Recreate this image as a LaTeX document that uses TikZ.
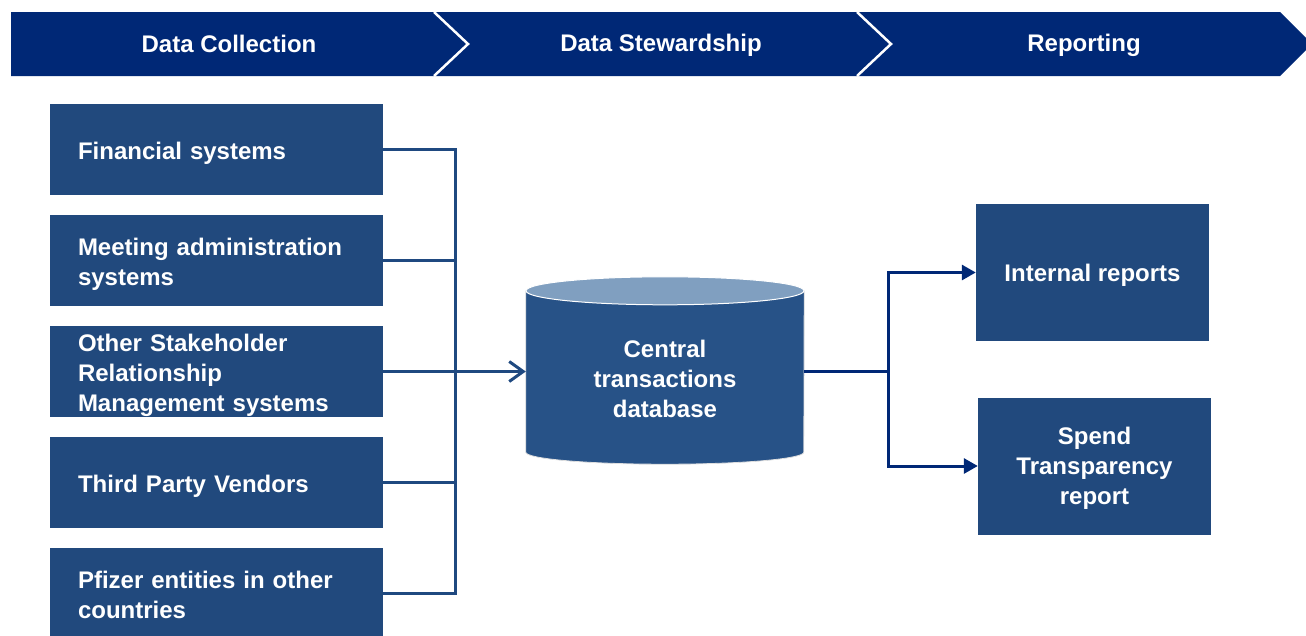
\documentclass[tikz,border=0pt]{standalone}
\usepackage{fontspec}
\setmainfont{Liberation Sans}
\usepackage{xcolor}
\usetikzlibrary{arrows.meta}
\definecolor{hdrblue}{RGB}{0,40,118}
\definecolor{boxblue}{RGB}{33,73,125}
\definecolor{lineblue}{RGB}{31,73,128}
\definecolor{cylbody}{RGB}{39,82,135}
\definecolor{cyltop}{RGB}{128,159,192}
\begin{document}
\begin{tikzpicture}[x=1pt,y=1pt]
\tikzstyle{every node}+=[inner sep=0pt, text=white, font=\fontsize{24}{30}\selectfont\bfseries]
\tikzstyle{srcbox}=[fill=boxblue, minimum width=333pt, minimum height=91pt, text width=277pt, align=left, text height=25.5pt]
\tikzstyle{repbox}=[fill=boxblue, minimum width=233pt, minimum height=137pt, align=center]
\tikzstyle{feed}=[draw=lineblue, line width=3pt]
\tikzstyle{outflow}=[draw=hdrblue, line width=3pt]
\useasboundingbox (0,0) rectangle (1306,-635);
% header bar
\fill [hdrblue] (11,-12) -- (1280,-12) -- (1312,-44) -- (1280,-76) -- (11,-76) -- cycle;
\draw [white, line width=2.5pt] (434,-12) -- (468,-44) -- (434,-76);
\draw [white, line width=2.5pt] (857,-12) -- (891,-44) -- (857,-76);
\node (hcol) at (229,-44) {Data Collection};
\node (hstw) at (661,-45) {Data Stewardship};
\node (hrep) at (1084,-45) {Reporting};
% sources
\node [srcbox] (fin) at (216.5,-149.5) {Financial systems};
\node [srcbox] (mtg) at (216.5,-260.5) {Meeting administration\\systems};
\node [srcbox] (oth) at (216.5,-371.5) {Other Stakeholder\\Relationship\\Management systems};
\node [srcbox] (tpv) at (216.5,-482.5) {Third Party Vendors};
\node [srcbox, text height=19.5pt] (pfz) at (216.5,-593.5) {Pfizer entities in other\\countries};
% database
\node (db) at (665,-371.5) [minimum width=278pt, minimum height=161pt] {};
\fill [cylbody, draw=white!75!gray, line width=0.8pt] (db.north west) -- (db.south west) arc [start angle=180, end angle=360, x radius=139pt, y radius=12pt] -- (db.north east) -- cycle;
\fill [cyltop, draw=white, line width=1pt] (db.north) ellipse [x radius=139pt, y radius=14pt];
\node [align=center] (dbtxt) at ([yshift=-7.5pt]db.center) {Central\\transactions\\database};
% reports
\node [repbox, text height=22.5pt] (intl) at (1092.5,-272.5) {Internal reports};
\node [repbox, text depth=0pt] (spd) at (1094.5,-466) {Spend\\Transparency\\report};
% feeds in
\coordinate (bus) at (455,-371.5);
\draw [feed] (fin.east) -- (fin.east -| bus) -- (pfz.east -| bus) -- (pfz.east);
\draw [feed] (mtg.east) -- (mtg.east -| bus);
\draw [feed] (tpv.east) -- (tpv.east -| bus);
\draw [feed, -{Straight Barb[length=14pt, width=20pt]}] (oth.east) -- (db.west);
% reports out
\coordinate (fork) at (888,-371.5);
\draw [outflow] (db.east) -- (fork);
\draw [outflow, -{Triangle[length=14pt, width=15pt]}] (fork) |- (intl.west);
\draw [outflow, -{Triangle[length=14pt, width=15pt]}] (fork) |- (spd.west);
\end{tikzpicture}
\end{document}
